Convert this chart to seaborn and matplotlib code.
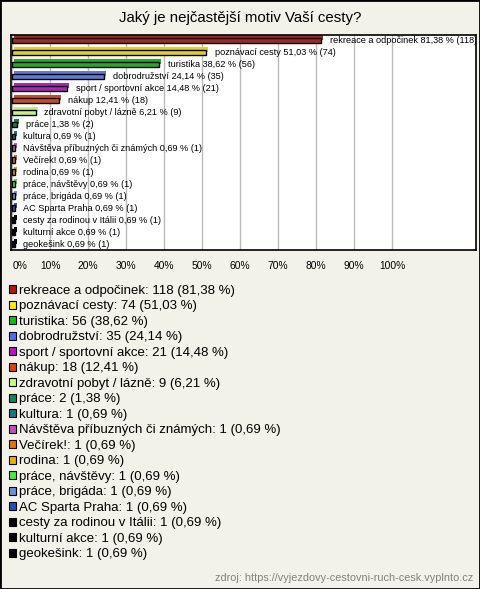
import matplotlib
matplotlib.use("Agg")
import matplotlib.pyplot as plt
import matplotlib.patheffects as pe
from matplotlib.patches import Patch, Rectangle
import seaborn as sns
import pandas as pd

# data
categories = ["rekreace a odpočinek", "poznávací cesty", "turistika", "dobrodružství",
              "sport / sportovní akce", "nákup", "zdravotní pobyt / lázně", "práce",
              "kultura", "Návštěva příbuzných či známých", "Večírek!", "rodina",
              "práce, návštěvy", "práce, brigáda", "AC Sparta Praha",
              "cesty za rodinou v Itálii", "kulturní akce", "geokešink"]
counts = [118, 74, 56, 35, 21, 18, 9, 2, 1, 1, 1, 1, 1, 1, 1, 1, 1, 1]
percents = [81.38, 51.03, 38.62, 24.14, 14.48, 12.41, 6.21, 1.38,
            0.69, 0.69, 0.69, 0.69, 0.69, 0.69, 0.69, 0.69, 0.69, 0.69]
colors = ["#b8160c", "#ffee00", "#10c010", "#4a6fec", "#c010cc", "#e04010",
          "#ccff77", "#108858", "#187888", "#c050c0", "#e87000", "#e8b000",
          "#44ee33", "#6a90e0", "#2050b8", "#000000", "#000000", "#000000"]
x_ticks = list(range(0, 101, 10))

df = pd.DataFrame({"label": categories, "pct": percents, "n": counts})

bg = "#f3f2ea"
plt.rcParams["font.family"] = ["Liberation Sans", "DejaVu Sans"]

fig = plt.figure(figsize=(4.8, 5.89), dpi=100, facecolor=bg)
W, H = 480, 589
ax = fig.add_axes([11 / W, (H - 250) / H, (476 - 11) / W, (250 - 35) / H])
ax.set_facecolor("white")

sns.barplot(data=df, x="pct", y="label", hue="label", palette=colors, legend=False,
            orient="h", width=0.42, edgecolor="black", linewidth=1, ax=ax)

# fake 3D top face
for p in ax.patches:
    p.set_path_effects([pe.SimplePatchShadow(offset=(1.5, 1.5), shadow_rgbFace=p.get_facecolor(),
                                             alpha=1), pe.Normal()])


def fmt(p):
    return f"{p:.2f}".replace(".", ",")


for i, (c, p, n) in enumerate(zip(categories, percents, counts)):
    ax.text(p + 2.3, i, f"{c} {fmt(p)} % ({n})", fontsize=6.6,
            va="center", ha="left", clip_on=True)

ax.set_xlim(-0.3, 122.1)
ax.set_ylim(len(categories) - 0.5, -0.42)
ax.set_xticks(x_ticks)
ax.set_xticklabels([f"{t}%" for t in x_ticks], fontsize=7.4)
ax.get_xticklabels()[0].set_ha("left")
ax.tick_params(axis="x", length=0, pad=8)
ax.set_yticks([])
ax.set_xlabel("")
ax.set_ylabel("")
ax.grid(axis="x", color="#bbbbbb", linewidth=1)
ax.set_axisbelow(True)
for s in ax.spines.values():
    s.set_linewidth(1.2)
    s.set_color("black")

fig.text(240 / W, 1 - 18 / H, "Jaký je nejčastější motiv Vaší cesty?", ha="center", va="center",
         fontsize=10.8)

# legend below the chart
handles = [Patch(facecolor=c, edgecolor="black", linewidth=0.8) for c in colors]
labels = [f"{c}: {n} ({fmt(p)} %)" for c, n, p in zip(categories, counts, percents)]
fig.legend(handles, labels, loc="upper left", bbox_to_anchor=(9 / W, 1 - 285 / H),
           frameon=False, fontsize=9.5, labelspacing=0.265, handlelength=0.55,
           handleheight=0.55, handletextpad=0.2, borderaxespad=0, borderpad=0)

fig.text(473 / W, 1 - 578 / H, "zdroj: https://vyjezdovy-cestovni-ruch-cesk.vyplnto.cz",
         ha="right", va="center", fontsize=7.8, color="#808080")

fig.patches.append(Rectangle((0, 0), 1, 1, transform=fig.transFigure, fill=False,
                             edgecolor="black", linewidth=2))

fig.savefig("out.png", dpi=100, facecolor=bg)
